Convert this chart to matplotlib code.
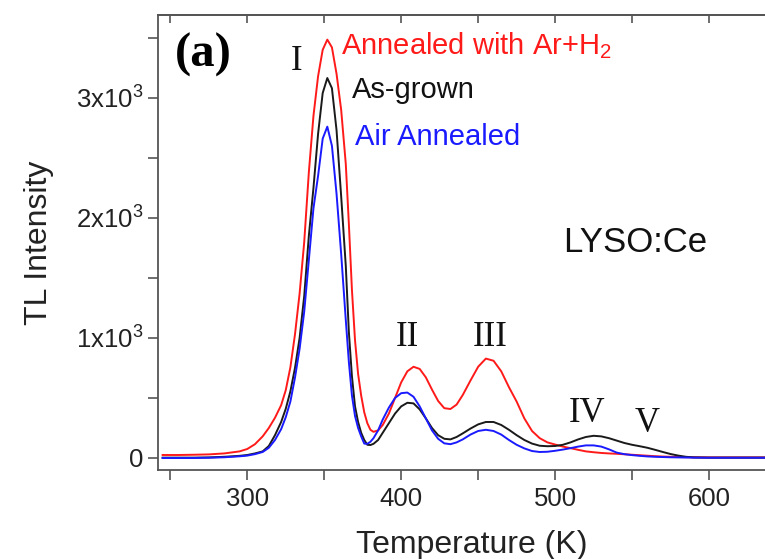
import numpy as np
import matplotlib.pyplot as plt
from matplotlib.ticker import MultipleLocator, FixedLocator, FixedFormatter

plt.rcParams['font.family'] = ['Liberation Sans', 'DejaVu Sans']
plt.rcParams['mathtext.fontset'] = 'custom'
plt.rcParams['mathtext.rm'] = 'Liberation Sans'
plt.rcParams['mathtext.default'] = 'regular'

# glow curves, temperature in K, intensity in counts
temperature = [245, 255, 265, 275, 285, 295, 300, 305, 310, 314, 318, 322, 325, 328,
               331, 334, 337, 340, 343, 346, 349, 352, 355, 358, 361, 364, 366, 368,
               370, 372, 374, 376, 378, 380, 382, 385, 388, 392, 396, 400, 404, 408,
               412, 416, 420, 424, 428, 432, 436, 440, 445, 450, 455, 460, 465, 470,
               475, 480, 485, 490, 495, 500, 505, 510, 515, 520, 525, 530, 535, 540,
               545, 550, 555, 560, 565, 570, 575, 580, 585, 590, 600, 610, 620, 636]

ar_h2 = [25, 25, 27, 30, 38, 55, 75, 115, 180, 250, 335, 440, 565, 755,
         1030, 1370, 1800, 2380, 2850, 3180, 3400, 3485, 3420, 3200, 2900, 2450, 1950, 1400,
         980, 700, 520, 380, 290, 235, 218, 230, 275, 370, 500, 630, 722, 760,
         742, 672, 570, 475, 415, 408, 445, 525, 645, 760, 828, 810, 722, 590,
         470, 330, 225, 165, 130, 112, 95, 82, 68, 55, 48, 42, 38, 35,
         31, 27, 23, 19, 15, 12, 10, 8, 7, 6, 5, 5, 5, 5]

as_grown = [3, 3, 3, 5, 10, 18, 25, 38, 55, 100, 190, 300, 410, 555,
            750, 1000, 1350, 1850, 2250, 2700, 3040, 3165, 3080, 2730, 2180, 1600, 1050, 680,
            430, 300, 210, 150, 110, 108, 118, 150, 210, 290, 370, 430, 460, 455,
            405, 330, 250, 190, 160, 155, 175, 205, 245, 280, 300, 300, 275, 235,
            190, 150, 120, 102, 98, 100, 110, 130, 155, 175, 185, 180, 165, 145,
            125, 110, 98, 85, 68, 50, 33, 20, 10, 5, 3, 3, 3, 3]

air_annealed = [0, 0, 0, 2, 6, 14, 20, 32, 50, 85, 150, 240, 340, 470,
                670, 910, 1220, 1650, 2080, 2350, 2660, 2760, 2600, 2200, 1700, 1150, 800, 520,
                350, 250, 180, 120, 118, 135, 165, 230, 320, 420, 500, 540, 545, 510,
                430, 330, 230, 160, 122, 115, 130, 155, 195, 225, 235, 225, 195, 150,
                110, 80, 58, 50, 52, 60, 70, 82, 95, 105, 105, 95, 72, 45,
                32, 24, 18, 13, 10, 8, 6, 5, 4, 3, 2, 2, 2, 2]

y_ticks = [0, 1000, 2000, 3000]
y_tick_labels = ['0', '1x10$^3$', '2x10$^3$', '3x10$^3$']
x_ticks = [300, 400, 500, 600]

peaks = ['I', 'II', 'III', 'IV', 'V']
peak_T = [332, 404, 458, 521, 560]
peak_I = [3300, 1000, 1000, 370, 285]

fig = plt.figure(figsize=(7.65, 5.59), dpi=100)
ax = fig.add_axes([158 / 765, 89 / 559, 628 / 765, 455 / 559])

ax.plot(temperature, ar_h2, color='#ff1a1a', lw=1.4)
ax.plot(temperature, as_grown, color='#1a1a1a', lw=1.4)
ax.plot(temperature, air_annealed, color='#1a1aff', lw=1.4)

ax.set_xlim(242, 650)
ax.set_ylim(-100, 3690)

spine_col = '#555555'
for s in ax.spines.values():
    s.set_color(spine_col)
    s.set_linewidth(1.3)

ax.xaxis.set_major_locator(FixedLocator(x_ticks))
ax.xaxis.set_minor_locator(MultipleLocator(50))
ax.yaxis.set_major_locator(FixedLocator(y_ticks))
ax.yaxis.set_major_formatter(FixedFormatter(y_tick_labels))
ax.yaxis.set_minor_locator(MultipleLocator(500))
ax.tick_params(which='both', direction='out', length=7, width=1.2, color=spine_col,
               labelsize=18.5, labelcolor='#222222')
ax.tick_params(axis='x', pad=5)

# top axis carries inward ticks only
top = ax.secondary_xaxis('top')
top.xaxis.set_major_locator(MultipleLocator(50))
top.tick_params(direction='in', length=6, width=1.2, color=spine_col, labeltop=False)
top.spines['top'].set_color(spine_col)
top.spines['top'].set_linewidth(1.3)

ax.set_xlabel('Temperature (K)', fontsize=23, color='#222222', labelpad=14)
ax.set_ylabel('TL Intensity', fontsize=23, color='#222222', labelpad=16)

ax.text(253, 3360, '(a)', family='Liberation Serif', fontweight='bold', fontsize=35,
        ha='left', va='center', color='black')
for name, t, v in zip(peaks, peak_T, peak_I):
    ax.text(t, v, name, family='Liberation Serif', fontsize=25, ha='center', va='center',
            color='#111111')

ax.text(361, 3433, 'Annealed with Ar+H$_2$', color='#ff1a1a', fontsize=21, ha='left', va='center')
ax.text(368, 3067, 'As-grown', color='#111111', fontsize=21, ha='left', va='center')
ax.text(370, 2675, 'Air Annealed', color='#1a1aff', fontsize=21, ha='left', va='center')
ax.text(552, 1792, 'LYSO:Ce', color='#111111', fontsize=25, ha='center', va='center')

fig.savefig('out.png', dpi=100)
